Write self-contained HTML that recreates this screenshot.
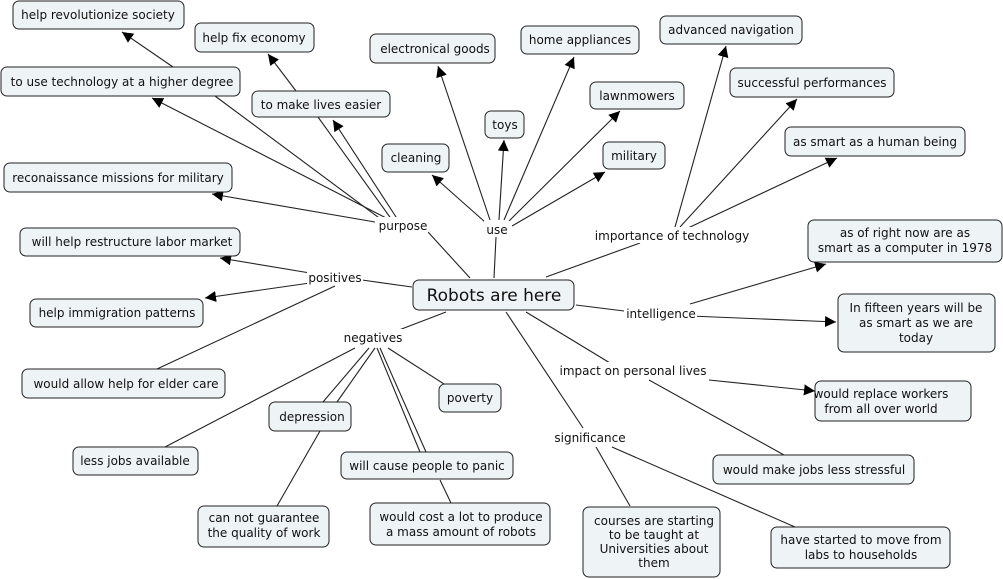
<!DOCTYPE html>
<html><head><meta charset="utf-8"><style>
html,body{margin:0;padding:0;background:#fff;}
svg{display:block;font-family:"DejaVu Sans","Liberation Sans",sans-serif;}
.b{fill:#eef3f5;stroke:#222;stroke-width:1;}
.t{font-size:12px;fill:#111;text-anchor:middle;}
.l{stroke:#222;stroke-width:1.1;fill:none;}
.a{stroke:#222;stroke-width:1.1;fill:none;marker-end:url(#ar);}
</style></head><body>
<svg width="1003" height="579" viewBox="0 0 1003 579">
<defs><marker id="ar" viewBox="0 0 10 10" refX="10" refY="5" markerWidth="11" markerHeight="11" markerUnits="userSpaceOnUse" orient="auto"><path d="M0,0L10,5L0,10z" fill="#000"/></marker></defs>
<!-- lines -->
<line class="l" x1="470" y1="278" x2="428" y2="232"/>
<line class="l" x1="494" y1="278" x2="496" y2="237"/>
<line class="l" x1="546" y1="277" x2="640" y2="243"/>
<line class="l" x1="412" y1="287" x2="362" y2="280"/>
<line class="l" x1="576" y1="305" x2="624" y2="311"/>
<line class="l" x1="446" y1="312" x2="399" y2="330"/>
<line class="l" x1="526" y1="312" x2="610" y2="363"/>
<line class="l" x1="506" y1="312" x2="583" y2="428"/>
<!-- purpose -->
<line class="a" x1="390" y1="220" x2="152" y2="98"/>
<line class="l" x1="382" y1="220" x2="215" y2="96"/>
<line class="a" x1="398" y1="220" x2="333" y2="120"/>
<line class="l" x1="392" y1="220" x2="318" y2="117"/>
<line class="a" x1="375" y1="222" x2="212" y2="194"/>
<line class="a" x1="173" y1="67" x2="122" y2="32"/>
<line class="a" x1="296" y1="91" x2="268" y2="54"/>
<!-- use -->
<line class="a" x1="490" y1="220" x2="438" y2="66"/>
<line class="a" x1="499" y1="220" x2="504" y2="140"/>
<line class="a" x1="504" y1="220" x2="574" y2="57"/>
<line class="a" x1="509" y1="221" x2="620" y2="111"/>
<line class="a" x1="512" y1="226" x2="605" y2="172"/>
<line class="a" x1="485" y1="222" x2="432" y2="175"/>
<!-- importance -->
<line class="a" x1="675" y1="227" x2="726" y2="46"/>
<line class="a" x1="680" y1="227" x2="797" y2="99"/>
<line class="a" x1="688" y1="228" x2="837" y2="158"/>
<!-- positives -->
<line class="a" x1="310" y1="273" x2="220" y2="258"/>
<line class="a" x1="310" y1="283" x2="205" y2="298"/>
<line class="l" x1="335" y1="286" x2="157" y2="369"/>
<!-- intelligence -->
<line class="a" x1="690" y1="304" x2="826" y2="264"/>
<line class="a" x1="690" y1="316" x2="836" y2="322"/>
<!-- negatives -->
<line class="l" x1="355" y1="348" x2="165" y2="447"/>
<line class="l" x1="369" y1="348" x2="323" y2="402"/>
<line class="l" x1="375" y1="348" x2="337" y2="402"/>
<line class="l" x1="320" y1="431" x2="277" y2="506"/>
<line class="l" x1="377" y1="348" x2="420" y2="452"/>
<line class="l" x1="380" y1="348" x2="426" y2="452"/>
<line class="l" x1="440" y1="480" x2="451" y2="503"/>
<line class="l" x1="388" y1="348" x2="444" y2="384"/>
<!-- impact -->
<line class="a" x1="709" y1="380" x2="815" y2="391"/>
<line class="l" x1="649" y1="380" x2="784" y2="455"/>
<!-- significance -->
<line class="l" x1="596" y1="447" x2="630" y2="506"/>
<line class="l" x1="612" y1="447" x2="795" y2="527"/>

<!-- link labels -->
<g class="t" style="font-size:12px">
<rect x="376" y="217" width="52" height="16" fill="#fff"/><text x="403" y="230">purpose</text>
<rect x="484" y="221" width="26" height="16" fill="#fff"/><text x="497" y="234">use</text>
<rect x="595" y="227" width="154" height="16" fill="#fff"/><text x="672" y="240">importance of technology</text>
<rect x="307" y="269" width="56" height="16" fill="#fff"/><text x="335" y="282">positives</text>
<rect x="625" y="305" width="72" height="16" fill="#fff"/><text x="661" y="318">intelligence</text>
<rect x="343" y="329" width="60" height="16" fill="#fff"/><text x="373" y="342">negatives</text>
<rect x="558" y="362" width="150" height="16" fill="#fff"/><text x="633" y="375">impact on personal lives</text>
<rect x="553" y="429" width="74" height="16" fill="#fff"/><text x="590" y="442">significance</text>
</g>

<!-- nodes -->
<rect class="b" x="13" y="1" width="171" height="28" rx="6"/><text class="t" x="98" y="19">help revolutionize society</text>
<rect class="b" x="195" y="23" width="119" height="29" rx="6"/><text class="t" x="254" y="42">help fix economy</text>
<rect class="b" x="1" y="67" width="239" height="29" rx="6"/><text class="t" x="122" y="86">to use technology at a higher degree</text>
<rect class="b" x="252" y="91" width="138" height="26" rx="6"/><text class="t" x="321" y="109">to make lives easier</text>
<rect class="b" x="4" y="163" width="228" height="29" rx="6"/><text class="t" x="118" y="182">reconaissance missions for military</text>
<rect class="b" x="370" y="34" width="125" height="29" rx="6"/><text class="t" x="435" y="53">electronical goods</text>
<rect class="b" x="521" y="26" width="118" height="28" rx="6"/><text class="t" x="580" y="44">home appliances</text>
<rect class="b" x="660" y="16" width="142" height="28" rx="6"/><text class="t" x="731" y="34">advanced navigation</text>
<rect class="b" x="730" y="68" width="164" height="29" rx="6"/><text class="t" x="812" y="87">successful performances</text>
<rect class="b" x="485" y="111" width="39" height="27" rx="6"/><text class="t" x="505" y="129">toys</text>
<rect class="b" x="590" y="82" width="94" height="27" rx="6"/><text class="t" x="637" y="100">lawnmowers</text>
<rect class="b" x="382" y="144" width="67" height="28" rx="6"/><text class="t" x="416" y="162">cleaning</text>
<rect class="b" x="603" y="142" width="62" height="27" rx="6"/><text class="t" x="634" y="160">military</text>
<rect class="b" x="785" y="127" width="180" height="29" rx="6"/><text class="t" x="875" y="146">as smart as a human being</text>
<rect class="b" x="20" y="228" width="220" height="28" rx="6"/><text class="t" x="132" y="246">will help restructure labor market</text>
<rect class="b" x="808" y="220" width="194" height="42" rx="6"/><text class="t" x="905" y="237">as of right now are as</text><text class="t" x="905" y="252">smart as a computer in 1978</text>
<rect class="b" x="413" y="280" width="161" height="30" rx="6"/><text class="t" x="494" y="301" style="font-size:17px">Robots are here</text>
<rect class="b" x="30" y="299" width="173" height="28" rx="6"/><text class="t" x="117" y="317">help immigration patterns</text>
<rect class="b" x="838" y="294" width="157" height="58" rx="6"/><text class="t" x="916" y="312">In fifteen years will be</text><text class="t" x="916" y="327">as smart as we are</text><text class="t" x="916" y="342">today</text>
<rect class="b" x="22" y="369" width="203" height="29" rx="6"/><text class="t" x="126" y="388">would allow help for elder care</text>
<rect class="b" x="439" y="384" width="62" height="28" rx="6"/><text class="t" x="470" y="402">poverty</text>
<rect class="b" x="269" y="402" width="82" height="29" rx="6"/><text class="t" x="312" y="421">depression</text>
<rect class="b" x="815" y="381" width="156" height="40" rx="6"/><text class="t" x="881" y="398">would replace workers</text><text class="t" x="881" y="413">from all over world</text>
<rect class="b" x="73" y="447" width="125" height="28" rx="6"/><text class="t" x="135" y="465">less jobs available</text>
<rect class="b" x="341" y="452" width="172" height="27" rx="6"/><text class="t" x="427" y="470">will cause people to panic</text>
<rect class="b" x="713" y="455" width="201" height="29" rx="6"/><text class="t" x="814" y="474">would make jobs less stressful</text>
<rect class="b" x="198" y="506" width="131" height="41" rx="6"/><text class="t" x="264" y="522">can not guarantee</text><text class="t" x="264" y="537">the quality of work</text>
<rect class="b" x="370" y="503" width="180" height="42" rx="6"/><text class="t" x="461" y="521">would cost a lot to produce</text><text class="t" x="461" y="536">a mass amount of robots</text>
<rect class="b" x="583" y="507" width="137" height="70" rx="6"/><text class="t" x="654" y="525">courses are starting</text><text class="t" x="654" y="539">to be taught at</text><text class="t" x="654" y="553">Universities about</text><text class="t" x="654" y="567">them</text>
<rect class="b" x="771" y="527" width="179" height="41" rx="6"/><text class="t" x="861" y="544">have started to move from</text><text class="t" x="861" y="559">labs to households</text>
</svg>
</body></html>
